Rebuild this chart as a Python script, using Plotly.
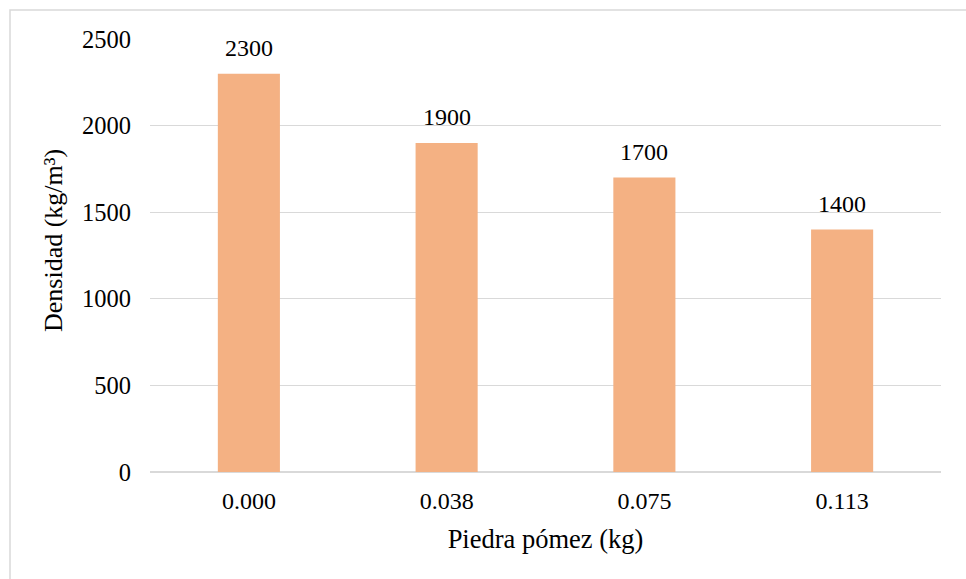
import plotly.graph_objects as go

# Pumice stone content (kg) vs. density of the mix
categorias = ["0.000", "0.038", "0.075", "0.113"]
densidad = [2300, 1900, 1700, 1400]
ticks_y = [0, 500, 1000, 1500, 2000, 2500]

FONT = "Liberation Serif, Times New Roman, serif"
BAR_COLOR = "#F4B183"
GRID = "#D9D9D9"

fig = go.Figure()
fig.add_trace(go.Bar(
    x=categorias,
    y=densidad,
    marker=dict(color=BAR_COLOR, line=dict(width=0)),
    hoverinfo="x+y",
))

# value labels above each bar (category axis: position by index)
for i, v in enumerate(densidad):
    fig.add_annotation(
        x=i, y=v, text=str(v), showarrow=False,
        yanchor="bottom", yshift=11,
        font=dict(family=FONT, size=24, color="#000000"),
    )

# y-axis title, placed slightly above the plot's vertical centre
fig.add_annotation(
    xref="paper", yref="paper", x=(53 - 150) / 791, y=(472 - 241) / 433,
    text="Densidad (kg/m³)", textangle=-90, showarrow=False,
    xanchor="center", yanchor="middle",
    font=dict(family=FONT, size=26, color="#000000"),
)

# thin frame around the chart area
fig.add_shape(
    type="rect", xref="paper", yref="paper",
    x0=(10 - 150) / 791, x1=2, y0=-2, y1=(472 - 10) / 433,
    line=dict(color="#D9D9D9", width=1.5), fillcolor="rgba(0,0,0,0)",
    layer="below",
)

fig.update_layout(
    width=966, height=579,
    margin=dict(l=150, r=25, t=39, b=107),
    paper_bgcolor="white", plot_bgcolor="white",
    bargap=0.686,
    showlegend=False,
    font=dict(family=FONT, size=24, color="#000000"),
    xaxis=dict(
        type="category",
        title=dict(text="Piedra pómez (kg)", font=dict(family=FONT, size=26.5), standoff=16),
        showgrid=False, showline=False, zeroline=False,
        ticks="", ticklabelstandoff=12,
        tickfont=dict(family=FONT, size=24),
    ),
    yaxis=dict(
        range=[0, 2500], tickvals=ticks_y, ticktext=[str(t) for t in ticks_y],
        showgrid=True, gridcolor=GRID, gridwidth=1.3,
        zeroline=True, zerolinecolor=GRID, zerolinewidth=1.5,
        showline=False, ticks="", ticklabelstandoff=18,
        tickfont=dict(family=FONT, size=24.5),
    ),
)

fig.write_html("out.html")
